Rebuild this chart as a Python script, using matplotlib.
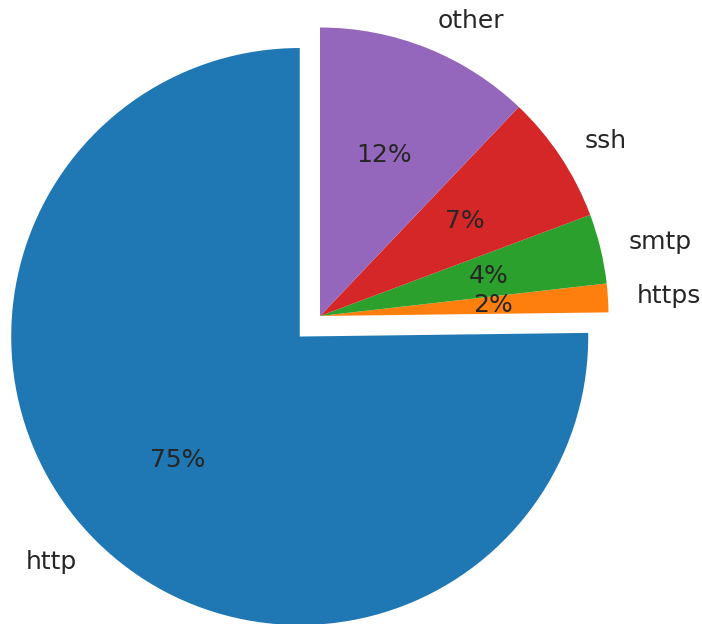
import matplotlib
matplotlib.use("Agg")
import matplotlib.pyplot as plt

# Dane: udział protokołów w ruchu sieciowym (w %).
labels = ["http", "https", "smtp", "ssh", "other"]
shares = [75.2, 1.6, 3.9, 7.2, 12.1]
explode = [0.1, 0, 0, 0, 0]

plt.rcParams["font.family"] = "DejaVu Sans"
plt.rcParams["text.color"] = "#262626"

fig = plt.figure(figsize=(7.02, 6.24), dpi=100)
ax = fig.add_axes([0, 0, 1, 1])

ax.pie(shares, labels=labels, explode=explode, startangle=90,
       autopct="%1.0f%%", textprops={"fontsize": 18, "color": "#262626"})

# Skala: promień 1 = ok. 288 px, środek koła w (320, 316) px.
r = 288.5
ax.set_aspect("auto")
ax.set_xlim(-320 / r, (702 - 320) / r)
ax.set_ylim(-308 / r, (624 - 308) / r)
ax.axis("off")

fig.savefig("out.png", dpi=100)
